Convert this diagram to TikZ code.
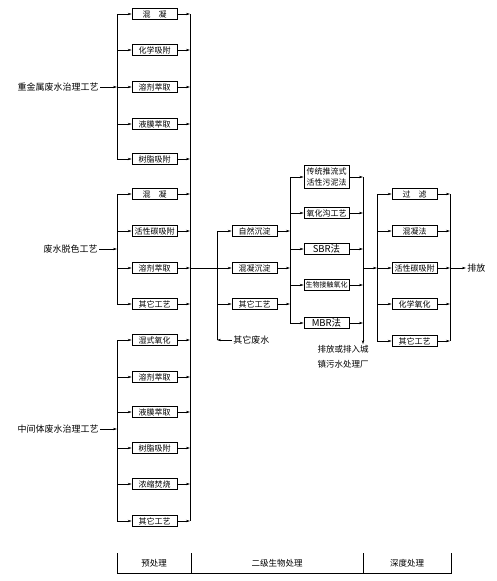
\documentclass[tikz,border=0pt]{standalone}
\usepackage{fontspec}
\setmainfont{Noto Sans CJK SC}
\usepackage{tikz}
\usetikzlibrary{arrows.meta,positioning,calc}

\begin{document}
\begin{tikzpicture}[
  x=1pt, y=-1pt,
  line width=0.6pt,
  box/.style={draw, minimum width=45pt, minimum height=10.5pt, inner sep=0pt, align=center, font=\fontsize{8}{9}\selectfont},
  lab/.style={inner sep=1pt, font=\fontsize{9}{10}\selectfont},
  arr/.style={-{Stealth[length=4pt,width=2.4pt]}, line width=0.6pt}
]
\useasboundingbox (0,0) rectangle (497,581);

% bus positions
\coordinate (pl) at (117,0);
\coordinate (pr) at (190,0);
\coordinate (sl) at (217,0);
\coordinate (sr) at (290,0);
\coordinate (br) at (363,0);
\coordinate (tl) at (377,0);
\coordinate (tr) at (450,0);

% pretreatment: heavy metals
\node[box] (h1) at (154.5,14) {混\quad 凝};
\node[box] (h2) at (154.5,50) {化学吸附};
\node[box] (h3) at (154.5,87) {溶剂萃取};
\node[box] (h4) at (154.5,124) {液膜萃取};
\node[box] (h5) at (154.5,159) {树脂吸附};
\node[lab, anchor=east] (hm) at (100,87) {重金属废水治理工艺};

% pretreatment: decolour
\node[box] (d1) at (154.5,194) {混\quad 凝};
\node[box] (d2) at (154.5,231) {活性碳吸附};
\node[box] (d3) at (154.5,268) {溶剂萃取};
\node[box] (d4) at (154.5,304) {其它工艺};
\node[lab, anchor=east] (dc) at (99,249) {废水脱色工艺};

% pretreatment: intermediates
\node[box] (m1) at (154.5,340) {湿式氧化};
\node[box] (m2) at (154.5,377) {溶剂萃取};
\node[box] (m3) at (154.5,412) {液膜萃取};
\node[box] (m4) at (154.5,448) {树脂吸附};
\node[box] (m5) at (154.5,484) {浓缩焚烧};
\node[box] (m6) at (154.5,521) {其它工艺};
\node[lab, anchor=east] (mi) at (100,429) {中间体废水治理工艺};

% settling
\node[box] (s1) at (254.5,231) {自然沉淀};
\node[box] (s2) at (254.5,268) {混凝沉淀};
\node[box] (s3) at (254.5,304) {其它工艺};
\node[lab, anchor=west] (ow) at (232,340) {其它废水};

% biological
\node[box, minimum height=23pt, font=\fontsize{8}{10.5}\selectfont] (b1) at (326.5,177) {传统推流式\\活性污泥法};
\node[box] (b2) at (326.5,213) {氧化沟工艺};
\node[box, font=\fontsize{9.5}{10}\selectfont] (b3) at (326.5,249) {SBR法};
\node[box, font=\fontsize{7}{8}\selectfont] (b4) at (326.5,285) {生物接触氧化};
\node[box, font=\fontsize{9.5}{10}\selectfont] (b5) at (326.5,323) {MBR法};
\node[lab, align=center, font=\fontsize{8.5}{15}\selectfont] (dis) at (343,357) {排放或排入城\\镇污水处理厂};

% advanced
\node[box] (t1) at (414.5,194) {过\quad 滤};
\node[box] (t2) at (414.5,231) {混凝法};
\node[box] (t3) at (414.5,268) {活性碳吸附};
\node[box] (t4) at (414.5,304) {化学氧化};
\node[box] (t5) at (414.5,341) {其它工艺};
\node[lab, anchor=west] (out) at (466,268) {排放};

% footer
\node[lab, font=\fontsize{8.5}{10}\selectfont] (f1) at (154,563) {预处理};
\node[lab, font=\fontsize{8.5}{10}\selectfont] (f2) at (277,563) {二级生物处理};
\node[lab, font=\fontsize{8.5}{10}\selectfont] (f3) at (407,563) {深度处理};

% buses
\draw (h1 -| pl) -- (h5 -| pl);
\draw (d1 -| pl) -- (d4 -| pl);
\draw (m1 -| pl) -- (m6 -| pl);
\draw (h1 -| pr) -- (m6 -| pr);
\draw (d3 -| pr) -- (s2 -| sl);
\draw (s1 -| sl) -- (ow -| sl);
\draw (b1 -| sr) -- (b5 -| sr);
\draw[arr] (b1 -| br) -- (dis.north -| br);
\draw (t1 -| tl) -- (t5 -| tl);
\draw (t1 -| tr) -- (t5 -| tr);

% feeds
\draw[arr] (hm.east) -- (hm -| pl);
\draw[arr] (dc.east) -- (dc -| pl);
\draw[arr] (mi.east) -- (mi -| pl);
\draw[arr] (ow.west) -- (ow -| sl);
\draw[arr] (t3 -| br) -- (t3 -| tl);
\draw[arr] (t3 -| tr) -- (out.west);

\foreach \n in {h1,h2,h3,h4,h5,d1,d2,d3,d4,m1,m2,m3,m4,m5,m6} {
  \draw[arr] (\n -| pl) -- (\n.west);
  \draw[arr] (\n.east) -- (\n -| pr);
}
\foreach \n in {s1,s2,s3} {
  \draw[arr] (\n -| sl) -- (\n.west);
  \draw[arr] (\n.east) -- (\n -| sr);
}
\foreach \n in {b1,b2,b3,b4,b5} {
  \draw[arr] (\n -| sr) -- (\n.west);
  \draw[arr] (\n.east) -- (\n -| br);
}
\foreach \n in {t1,t2,t3,t4,t5} {
  \draw[arr] (\n -| tl) -- (\n.west);
  \draw[arr] (\n.east) -- (\n -| tr);
}

% stage frame
\draw (117,553) -- (117,573) -- (451,573) -- (451,553);
\draw (191,553) -- (191,573);
\draw (363,553) -- (363,573);

\end{tikzpicture}
\end{document}
